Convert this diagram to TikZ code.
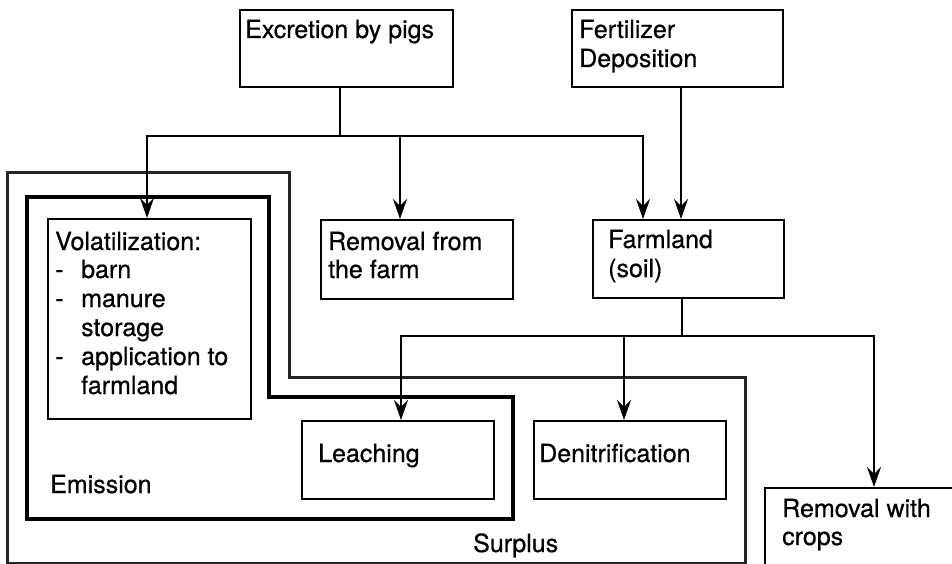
\documentclass[tikz,border=0pt]{standalone}
\usepackage{fontspec}
\setmainfont[FakeBold=0.6]{TeX Gyre Heros}
\usetikzlibrary{arrows.meta}
\tikzset{
  box/.style={draw, line width=1.8pt, rectangle, inner sep=0pt, anchor=north west},
  txt/.style={anchor=base west, inner sep=0pt, font=\fontsize{25}{29}\selectfont},
  link/.style={line width=1.7pt},
  arr/.style={link, -{Stealth[length=20pt, width=14pt, inset=7pt]}},
  surplus/.style={line width=3pt, draw=black!85},
  emission/.style={line width=4pt, line join=miter},
}
\begin{document}
\begin{tikzpicture}[x=1pt, y=-1pt]
\useasboundingbox (0,0) rectangle (952,564);
\clip (0,0) rectangle (952,564);

% nested regions: surplus (outer) and emission (inner)
\draw[surplus] (7,173) -- (289,173) -- (289,377) -- (745,377) -- (745,563) -- (7,563) -- cycle;
\draw[emission] (27,197) -- (269,197) -- (269,397) -- (513,397) -- (513,519) -- (27,519) -- cycle;
\node[txt] (lemis) at (50,493) {Emission};
\node[txt] (lsurp) at (473,552) {Surplus};

% boxes
\node[box, minimum width=213, minimum height=77] (exc) at (239,9) {};
\node[box, minimum width=211, minimum height=77] (fert) at (571,9) {};
\node[box, minimum width=203, minimum height=200] (vol) at (47,218) {};
\node[box, minimum width=192, minimum height=79] (rem) at (320,219) {};
\node[box, minimum width=191, minimum height=78] (farm) at (592,219) {};
\node[box, minimum width=192, minimum height=78] (leach) at (301,420) {};
\node[box, minimum width=192, minimum height=78] (denit) at (533,420) {};
\node[box, minimum width=200, minimum height=95] (crops) at (764,487) {};

% box texts
\node[txt] (texc) at (245,38) {Excretion by pigs};
\node[txt] (tfert1) at (579,38) {Fertilizer};
\node[txt] (tfert2) at (579,67) {Deposition};
\node[txt] (tvol) at (55,250) {Volatilization:};
\node[txt] (d1) at (55,278) {-};
\node[txt] (i1) at (81,278) {barn};
\node[txt] (d2) at (55,307) {-};
\node[txt] (i2) at (81,307) {manure};
\node[txt] (i2b) at (81,336) {storage};
\node[txt] (d3) at (55,365) {-};
\node[txt] (i3) at (81,365) {application to};
\node[txt] (i3b) at (81,394) {farmland};
\node[txt] (trem1) at (328,250) {Removal from};
\node[txt] (trem2) at (328,278) {the farm};
\node[txt] (tfarm1) at (608,248) {Farmland};
\node[txt] (tfarm2) at (608,277) {(soil)};
\node[txt] (tleach) at (318,462) {Leaching};
\node[txt] (tdenit) at (539,462) {Denitrification};
\node[txt] (tcrop1) at (782,517) {Removal with};
\node[txt] (tcrop2) at (782,545) {crops};

% flows from excretion
\coordinate (j1) at (340,136);
\draw[link] (exc.south -| j1) -- (j1);
\draw[arr] (j1) -| ([xshift=100pt]vol.north west);
\draw[arr] (j1) -| ([xshift=80pt]rem.north west);
\draw[arr] (j1) -| ([xshift=51pt]farm.north west);
\draw[arr] ([xshift=110pt]fert.south west) -- ([xshift=110pt]fert.south west |- farm.north);

% flows from farmland
\coordinate (j2) at (682,336);
\draw[link] (farm.south -| j2) -- (j2);
\draw[arr] (j2) -| ([xshift=100pt]leach.north west);
\draw[arr] (j2) -| ([xshift=91pt]denit.north west);
\draw[arr] (j2) -| ([xshift=110pt]crops.north west);
\end{tikzpicture}
\end{document}
